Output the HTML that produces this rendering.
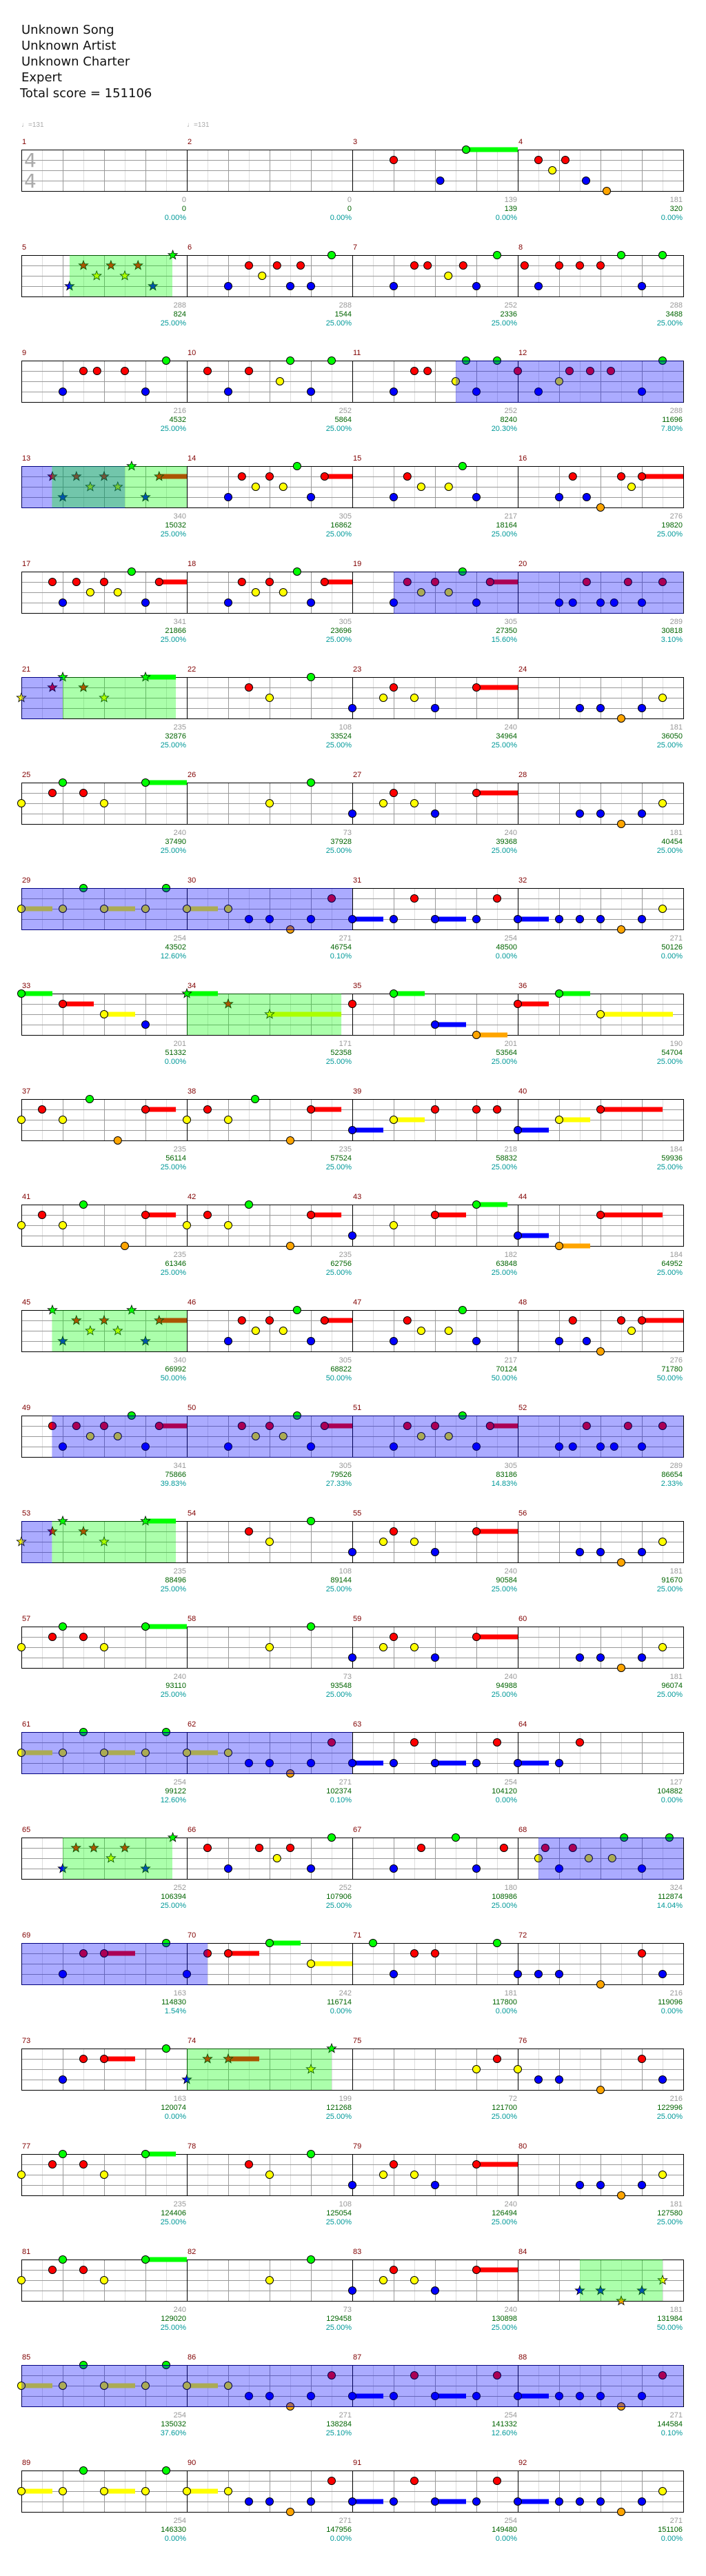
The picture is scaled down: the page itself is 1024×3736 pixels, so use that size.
<!DOCTYPE html>
<html><head><meta charset="utf-8">
<style>
html,body{margin:0;padding:0;background:#fff;}
svg{display:block;}
.h{font-family:"DejaVu Sans","Liberation Sans",sans-serif;font-size:18px;fill:#111;}
.t{font-family:"Liberation Sans",sans-serif;font-size:10px;fill:#aaa;}
.n{font-family:"Liberation Sans",sans-serif;font-size:11px;fill:#800000;}
.a,.b,.c{font-family:"Liberation Sans",sans-serif;font-size:11px;text-anchor:end;}
.a{fill:#999;}.b{fill:#006400;}.c{fill:#009999;}
.ts{font-family:"DejaVu Sans","Liberation Sans",sans-serif;font-size:28px;fill:#aaa;}
</style></head><body>
<svg id="s" xmlns="http://www.w3.org/2000/svg" width="1024" height="3736" viewBox="0 0 1024 3736">
<rect width="1024" height="3736" fill="#fff"/>
<g id="grid"></g><g id="notes"></g><g id="ov"></g>
<text class="h" x="31" y="49">Unknown Song</text>
<text class="h" x="31" y="72">Unknown Artist</text>
<text class="h" x="31" y="95">Unknown Charter</text>
<text class="h" x="31" y="118">Expert</text>
<text class="h" x="29" y="141">Total score = 151106</text>
<text class="t" x="31" y="184">♩=131</text>
<text class="t" x="271" y="184">♩=131</text>
<text class="ts" x="35" y="242">4</text>
<text class="ts" x="35" y="272">4</text>
<g id="labels">
<g transform="translate(31,217)"><text class="n" x="1" y="-8">1</text><text class="a" x="239" y="76">0</text><text class="b" x="239" y="89">0</text><text class="c" x="239" y="102">0.00%</text></g>
<g transform="translate(271,217)"><text class="n" x="1" y="-8">2</text><text class="a" x="239" y="76">0</text><text class="b" x="239" y="89">0</text><text class="c" x="239" y="102">0.00%</text></g>
<g transform="translate(511,217)"><text class="n" x="1" y="-8">3</text><text class="a" x="239" y="76">139</text><text class="b" x="239" y="89">139</text><text class="c" x="239" y="102">0.00%</text></g>
<g transform="translate(751,217)"><text class="n" x="1" y="-8">4</text><text class="a" x="239" y="76">181</text><text class="b" x="239" y="89">320</text><text class="c" x="239" y="102">0.00%</text></g>
<g transform="translate(31,370)"><text class="n" x="1" y="-8">5</text><text class="a" x="239" y="76">288</text><text class="b" x="239" y="89">824</text><text class="c" x="239" y="102">25.00%</text></g>
<g transform="translate(271,370)"><text class="n" x="1" y="-8">6</text><text class="a" x="239" y="76">288</text><text class="b" x="239" y="89">1544</text><text class="c" x="239" y="102">25.00%</text></g>
<g transform="translate(511,370)"><text class="n" x="1" y="-8">7</text><text class="a" x="239" y="76">252</text><text class="b" x="239" y="89">2336</text><text class="c" x="239" y="102">25.00%</text></g>
<g transform="translate(751,370)"><text class="n" x="1" y="-8">8</text><text class="a" x="239" y="76">288</text><text class="b" x="239" y="89">3488</text><text class="c" x="239" y="102">25.00%</text></g>
<g transform="translate(31,523)"><text class="n" x="1" y="-8">9</text><text class="a" x="239" y="76">216</text><text class="b" x="239" y="89">4532</text><text class="c" x="239" y="102">25.00%</text></g>
<g transform="translate(271,523)"><text class="n" x="1" y="-8">10</text><text class="a" x="239" y="76">252</text><text class="b" x="239" y="89">5864</text><text class="c" x="239" y="102">25.00%</text></g>
<g transform="translate(511,523)"><text class="n" x="1" y="-8">11</text><text class="a" x="239" y="76">252</text><text class="b" x="239" y="89">8240</text><text class="c" x="239" y="102">20.30%</text></g>
<g transform="translate(751,523)"><text class="n" x="1" y="-8">12</text><text class="a" x="239" y="76">288</text><text class="b" x="239" y="89">11696</text><text class="c" x="239" y="102">7.80%</text></g>
<g transform="translate(31,676)"><text class="n" x="1" y="-8">13</text><text class="a" x="239" y="76">340</text><text class="b" x="239" y="89">15032</text><text class="c" x="239" y="102">25.00%</text></g>
<g transform="translate(271,676)"><text class="n" x="1" y="-8">14</text><text class="a" x="239" y="76">305</text><text class="b" x="239" y="89">16862</text><text class="c" x="239" y="102">25.00%</text></g>
<g transform="translate(511,676)"><text class="n" x="1" y="-8">15</text><text class="a" x="239" y="76">217</text><text class="b" x="239" y="89">18164</text><text class="c" x="239" y="102">25.00%</text></g>
<g transform="translate(751,676)"><text class="n" x="1" y="-8">16</text><text class="a" x="239" y="76">276</text><text class="b" x="239" y="89">19820</text><text class="c" x="239" y="102">25.00%</text></g>
<g transform="translate(31,829)"><text class="n" x="1" y="-8">17</text><text class="a" x="239" y="76">341</text><text class="b" x="239" y="89">21866</text><text class="c" x="239" y="102">25.00%</text></g>
<g transform="translate(271,829)"><text class="n" x="1" y="-8">18</text><text class="a" x="239" y="76">305</text><text class="b" x="239" y="89">23696</text><text class="c" x="239" y="102">25.00%</text></g>
<g transform="translate(511,829)"><text class="n" x="1" y="-8">19</text><text class="a" x="239" y="76">305</text><text class="b" x="239" y="89">27350</text><text class="c" x="239" y="102">15.60%</text></g>
<g transform="translate(751,829)"><text class="n" x="1" y="-8">20</text><text class="a" x="239" y="76">289</text><text class="b" x="239" y="89">30818</text><text class="c" x="239" y="102">3.10%</text></g>
<g transform="translate(31,982)"><text class="n" x="1" y="-8">21</text><text class="a" x="239" y="76">235</text><text class="b" x="239" y="89">32876</text><text class="c" x="239" y="102">25.00%</text></g>
<g transform="translate(271,982)"><text class="n" x="1" y="-8">22</text><text class="a" x="239" y="76">108</text><text class="b" x="239" y="89">33524</text><text class="c" x="239" y="102">25.00%</text></g>
<g transform="translate(511,982)"><text class="n" x="1" y="-8">23</text><text class="a" x="239" y="76">240</text><text class="b" x="239" y="89">34964</text><text class="c" x="239" y="102">25.00%</text></g>
<g transform="translate(751,982)"><text class="n" x="1" y="-8">24</text><text class="a" x="239" y="76">181</text><text class="b" x="239" y="89">36050</text><text class="c" x="239" y="102">25.00%</text></g>
<g transform="translate(31,1135)"><text class="n" x="1" y="-8">25</text><text class="a" x="239" y="76">240</text><text class="b" x="239" y="89">37490</text><text class="c" x="239" y="102">25.00%</text></g>
<g transform="translate(271,1135)"><text class="n" x="1" y="-8">26</text><text class="a" x="239" y="76">73</text><text class="b" x="239" y="89">37928</text><text class="c" x="239" y="102">25.00%</text></g>
<g transform="translate(511,1135)"><text class="n" x="1" y="-8">27</text><text class="a" x="239" y="76">240</text><text class="b" x="239" y="89">39368</text><text class="c" x="239" y="102">25.00%</text></g>
<g transform="translate(751,1135)"><text class="n" x="1" y="-8">28</text><text class="a" x="239" y="76">181</text><text class="b" x="239" y="89">40454</text><text class="c" x="239" y="102">25.00%</text></g>
<g transform="translate(31,1288)"><text class="n" x="1" y="-8">29</text><text class="a" x="239" y="76">254</text><text class="b" x="239" y="89">43502</text><text class="c" x="239" y="102">12.60%</text></g>
<g transform="translate(271,1288)"><text class="n" x="1" y="-8">30</text><text class="a" x="239" y="76">271</text><text class="b" x="239" y="89">46754</text><text class="c" x="239" y="102">0.10%</text></g>
<g transform="translate(511,1288)"><text class="n" x="1" y="-8">31</text><text class="a" x="239" y="76">254</text><text class="b" x="239" y="89">48500</text><text class="c" x="239" y="102">0.00%</text></g>
<g transform="translate(751,1288)"><text class="n" x="1" y="-8">32</text><text class="a" x="239" y="76">271</text><text class="b" x="239" y="89">50126</text><text class="c" x="239" y="102">0.00%</text></g>
<g transform="translate(31,1441)"><text class="n" x="1" y="-8">33</text><text class="a" x="239" y="76">201</text><text class="b" x="239" y="89">51332</text><text class="c" x="239" y="102">0.00%</text></g>
<g transform="translate(271,1441)"><text class="n" x="1" y="-8">34</text><text class="a" x="239" y="76">171</text><text class="b" x="239" y="89">52358</text><text class="c" x="239" y="102">25.00%</text></g>
<g transform="translate(511,1441)"><text class="n" x="1" y="-8">35</text><text class="a" x="239" y="76">201</text><text class="b" x="239" y="89">53564</text><text class="c" x="239" y="102">25.00%</text></g>
<g transform="translate(751,1441)"><text class="n" x="1" y="-8">36</text><text class="a" x="239" y="76">190</text><text class="b" x="239" y="89">54704</text><text class="c" x="239" y="102">25.00%</text></g>
<g transform="translate(31,1594)"><text class="n" x="1" y="-8">37</text><text class="a" x="239" y="76">235</text><text class="b" x="239" y="89">56114</text><text class="c" x="239" y="102">25.00%</text></g>
<g transform="translate(271,1594)"><text class="n" x="1" y="-8">38</text><text class="a" x="239" y="76">235</text><text class="b" x="239" y="89">57524</text><text class="c" x="239" y="102">25.00%</text></g>
<g transform="translate(511,1594)"><text class="n" x="1" y="-8">39</text><text class="a" x="239" y="76">218</text><text class="b" x="239" y="89">58832</text><text class="c" x="239" y="102">25.00%</text></g>
<g transform="translate(751,1594)"><text class="n" x="1" y="-8">40</text><text class="a" x="239" y="76">184</text><text class="b" x="239" y="89">59936</text><text class="c" x="239" y="102">25.00%</text></g>
<g transform="translate(31,1747)"><text class="n" x="1" y="-8">41</text><text class="a" x="239" y="76">235</text><text class="b" x="239" y="89">61346</text><text class="c" x="239" y="102">25.00%</text></g>
<g transform="translate(271,1747)"><text class="n" x="1" y="-8">42</text><text class="a" x="239" y="76">235</text><text class="b" x="239" y="89">62756</text><text class="c" x="239" y="102">25.00%</text></g>
<g transform="translate(511,1747)"><text class="n" x="1" y="-8">43</text><text class="a" x="239" y="76">182</text><text class="b" x="239" y="89">63848</text><text class="c" x="239" y="102">25.00%</text></g>
<g transform="translate(751,1747)"><text class="n" x="1" y="-8">44</text><text class="a" x="239" y="76">184</text><text class="b" x="239" y="89">64952</text><text class="c" x="239" y="102">25.00%</text></g>
<g transform="translate(31,1900)"><text class="n" x="1" y="-8">45</text><text class="a" x="239" y="76">340</text><text class="b" x="239" y="89">66992</text><text class="c" x="239" y="102">50.00%</text></g>
<g transform="translate(271,1900)"><text class="n" x="1" y="-8">46</text><text class="a" x="239" y="76">305</text><text class="b" x="239" y="89">68822</text><text class="c" x="239" y="102">50.00%</text></g>
<g transform="translate(511,1900)"><text class="n" x="1" y="-8">47</text><text class="a" x="239" y="76">217</text><text class="b" x="239" y="89">70124</text><text class="c" x="239" y="102">50.00%</text></g>
<g transform="translate(751,1900)"><text class="n" x="1" y="-8">48</text><text class="a" x="239" y="76">276</text><text class="b" x="239" y="89">71780</text><text class="c" x="239" y="102">50.00%</text></g>
<g transform="translate(31,2053)"><text class="n" x="1" y="-8">49</text><text class="a" x="239" y="76">341</text><text class="b" x="239" y="89">75866</text><text class="c" x="239" y="102">39.83%</text></g>
<g transform="translate(271,2053)"><text class="n" x="1" y="-8">50</text><text class="a" x="239" y="76">305</text><text class="b" x="239" y="89">79526</text><text class="c" x="239" y="102">27.33%</text></g>
<g transform="translate(511,2053)"><text class="n" x="1" y="-8">51</text><text class="a" x="239" y="76">305</text><text class="b" x="239" y="89">83186</text><text class="c" x="239" y="102">14.83%</text></g>
<g transform="translate(751,2053)"><text class="n" x="1" y="-8">52</text><text class="a" x="239" y="76">289</text><text class="b" x="239" y="89">86654</text><text class="c" x="239" y="102">2.33%</text></g>
<g transform="translate(31,2206)"><text class="n" x="1" y="-8">53</text><text class="a" x="239" y="76">235</text><text class="b" x="239" y="89">88496</text><text class="c" x="239" y="102">25.00%</text></g>
<g transform="translate(271,2206)"><text class="n" x="1" y="-8">54</text><text class="a" x="239" y="76">108</text><text class="b" x="239" y="89">89144</text><text class="c" x="239" y="102">25.00%</text></g>
<g transform="translate(511,2206)"><text class="n" x="1" y="-8">55</text><text class="a" x="239" y="76">240</text><text class="b" x="239" y="89">90584</text><text class="c" x="239" y="102">25.00%</text></g>
<g transform="translate(751,2206)"><text class="n" x="1" y="-8">56</text><text class="a" x="239" y="76">181</text><text class="b" x="239" y="89">91670</text><text class="c" x="239" y="102">25.00%</text></g>
<g transform="translate(31,2359)"><text class="n" x="1" y="-8">57</text><text class="a" x="239" y="76">240</text><text class="b" x="239" y="89">93110</text><text class="c" x="239" y="102">25.00%</text></g>
<g transform="translate(271,2359)"><text class="n" x="1" y="-8">58</text><text class="a" x="239" y="76">73</text><text class="b" x="239" y="89">93548</text><text class="c" x="239" y="102">25.00%</text></g>
<g transform="translate(511,2359)"><text class="n" x="1" y="-8">59</text><text class="a" x="239" y="76">240</text><text class="b" x="239" y="89">94988</text><text class="c" x="239" y="102">25.00%</text></g>
<g transform="translate(751,2359)"><text class="n" x="1" y="-8">60</text><text class="a" x="239" y="76">181</text><text class="b" x="239" y="89">96074</text><text class="c" x="239" y="102">25.00%</text></g>
<g transform="translate(31,2512)"><text class="n" x="1" y="-8">61</text><text class="a" x="239" y="76">254</text><text class="b" x="239" y="89">99122</text><text class="c" x="239" y="102">12.60%</text></g>
<g transform="translate(271,2512)"><text class="n" x="1" y="-8">62</text><text class="a" x="239" y="76">271</text><text class="b" x="239" y="89">102374</text><text class="c" x="239" y="102">0.10%</text></g>
<g transform="translate(511,2512)"><text class="n" x="1" y="-8">63</text><text class="a" x="239" y="76">254</text><text class="b" x="239" y="89">104120</text><text class="c" x="239" y="102">0.00%</text></g>
<g transform="translate(751,2512)"><text class="n" x="1" y="-8">64</text><text class="a" x="239" y="76">127</text><text class="b" x="239" y="89">104882</text><text class="c" x="239" y="102">0.00%</text></g>
<g transform="translate(31,2665)"><text class="n" x="1" y="-8">65</text><text class="a" x="239" y="76">252</text><text class="b" x="239" y="89">106394</text><text class="c" x="239" y="102">25.00%</text></g>
<g transform="translate(271,2665)"><text class="n" x="1" y="-8">66</text><text class="a" x="239" y="76">252</text><text class="b" x="239" y="89">107906</text><text class="c" x="239" y="102">25.00%</text></g>
<g transform="translate(511,2665)"><text class="n" x="1" y="-8">67</text><text class="a" x="239" y="76">180</text><text class="b" x="239" y="89">108986</text><text class="c" x="239" y="102">25.00%</text></g>
<g transform="translate(751,2665)"><text class="n" x="1" y="-8">68</text><text class="a" x="239" y="76">324</text><text class="b" x="239" y="89">112874</text><text class="c" x="239" y="102">14.04%</text></g>
<g transform="translate(31,2818)"><text class="n" x="1" y="-8">69</text><text class="a" x="239" y="76">163</text><text class="b" x="239" y="89">114830</text><text class="c" x="239" y="102">1.54%</text></g>
<g transform="translate(271,2818)"><text class="n" x="1" y="-8">70</text><text class="a" x="239" y="76">242</text><text class="b" x="239" y="89">116714</text><text class="c" x="239" y="102">0.00%</text></g>
<g transform="translate(511,2818)"><text class="n" x="1" y="-8">71</text><text class="a" x="239" y="76">181</text><text class="b" x="239" y="89">117800</text><text class="c" x="239" y="102">0.00%</text></g>
<g transform="translate(751,2818)"><text class="n" x="1" y="-8">72</text><text class="a" x="239" y="76">216</text><text class="b" x="239" y="89">119096</text><text class="c" x="239" y="102">0.00%</text></g>
<g transform="translate(31,2971)"><text class="n" x="1" y="-8">73</text><text class="a" x="239" y="76">163</text><text class="b" x="239" y="89">120074</text><text class="c" x="239" y="102">0.00%</text></g>
<g transform="translate(271,2971)"><text class="n" x="1" y="-8">74</text><text class="a" x="239" y="76">199</text><text class="b" x="239" y="89">121268</text><text class="c" x="239" y="102">25.00%</text></g>
<g transform="translate(511,2971)"><text class="n" x="1" y="-8">75</text><text class="a" x="239" y="76">72</text><text class="b" x="239" y="89">121700</text><text class="c" x="239" y="102">25.00%</text></g>
<g transform="translate(751,2971)"><text class="n" x="1" y="-8">76</text><text class="a" x="239" y="76">216</text><text class="b" x="239" y="89">122996</text><text class="c" x="239" y="102">25.00%</text></g>
<g transform="translate(31,3124)"><text class="n" x="1" y="-8">77</text><text class="a" x="239" y="76">235</text><text class="b" x="239" y="89">124406</text><text class="c" x="239" y="102">25.00%</text></g>
<g transform="translate(271,3124)"><text class="n" x="1" y="-8">78</text><text class="a" x="239" y="76">108</text><text class="b" x="239" y="89">125054</text><text class="c" x="239" y="102">25.00%</text></g>
<g transform="translate(511,3124)"><text class="n" x="1" y="-8">79</text><text class="a" x="239" y="76">240</text><text class="b" x="239" y="89">126494</text><text class="c" x="239" y="102">25.00%</text></g>
<g transform="translate(751,3124)"><text class="n" x="1" y="-8">80</text><text class="a" x="239" y="76">181</text><text class="b" x="239" y="89">127580</text><text class="c" x="239" y="102">25.00%</text></g>
<g transform="translate(31,3277)"><text class="n" x="1" y="-8">81</text><text class="a" x="239" y="76">240</text><text class="b" x="239" y="89">129020</text><text class="c" x="239" y="102">25.00%</text></g>
<g transform="translate(271,3277)"><text class="n" x="1" y="-8">82</text><text class="a" x="239" y="76">73</text><text class="b" x="239" y="89">129458</text><text class="c" x="239" y="102">25.00%</text></g>
<g transform="translate(511,3277)"><text class="n" x="1" y="-8">83</text><text class="a" x="239" y="76">240</text><text class="b" x="239" y="89">130898</text><text class="c" x="239" y="102">25.00%</text></g>
<g transform="translate(751,3277)"><text class="n" x="1" y="-8">84</text><text class="a" x="239" y="76">181</text><text class="b" x="239" y="89">131984</text><text class="c" x="239" y="102">50.00%</text></g>
<g transform="translate(31,3430)"><text class="n" x="1" y="-8">85</text><text class="a" x="239" y="76">254</text><text class="b" x="239" y="89">135032</text><text class="c" x="239" y="102">37.60%</text></g>
<g transform="translate(271,3430)"><text class="n" x="1" y="-8">86</text><text class="a" x="239" y="76">271</text><text class="b" x="239" y="89">138284</text><text class="c" x="239" y="102">25.10%</text></g>
<g transform="translate(511,3430)"><text class="n" x="1" y="-8">87</text><text class="a" x="239" y="76">254</text><text class="b" x="239" y="89">141332</text><text class="c" x="239" y="102">12.60%</text></g>
<g transform="translate(751,3430)"><text class="n" x="1" y="-8">88</text><text class="a" x="239" y="76">271</text><text class="b" x="239" y="89">144584</text><text class="c" x="239" y="102">0.10%</text></g>
<g transform="translate(31,3583)"><text class="n" x="1" y="-8">89</text><text class="a" x="239" y="76">254</text><text class="b" x="239" y="89">146330</text><text class="c" x="239" y="102">0.00%</text></g>
<g transform="translate(271,3583)"><text class="n" x="1" y="-8">90</text><text class="a" x="239" y="76">271</text><text class="b" x="239" y="89">147956</text><text class="c" x="239" y="102">0.00%</text></g>
<g transform="translate(511,3583)"><text class="n" x="1" y="-8">91</text><text class="a" x="239" y="76">254</text><text class="b" x="239" y="89">149480</text><text class="c" x="239" y="102">0.00%</text></g>
<g transform="translate(751,3583)"><text class="n" x="1" y="-8">92</text><text class="a" x="239" y="76">271</text><text class="b" x="239" y="89">151106</text><text class="c" x="239" y="102">0.00%</text></g>
</g>
</svg>
<script>
(function(){
var NS="http://www.w3.org/2000/svg";
function el(p,t,a){var e=document.createElementNS(NS,t);for(var k in a)e.setAttribute(k,a[k]);p.appendChild(e);return e;}
var G=document.getElementById("grid"),N=document.getElementById("notes"),O=document.getElementById("ov");
function mx(m){return 31+240*((m-1)%4);}
function my(m){return 217+153*Math.floor((m-1)/4);}
for(var r=0;r<23;r++){
  var y=217+153*r;
  for(var i=1;i<32;i++){ if(i%8==0)continue; var x=31+30*i; el(G,"line",{x1:x+.5,y1:y,x2:x+.5,y2:y+60,stroke:(i%2==0)?"#999":"#ddd","stroke-width":1});}
  for(var j=1;j<4;j++){el(G,"line",{x1:31,y1:y+15*j+.5,x2:991,y2:y+15*j+.5,stroke:"#999","stroke-width":1});}
  el(G,"rect",{x:31.5,y:y+.5,width:960,height:60,fill:"none",stroke:"#000","stroke-width":1});
  for(var k=1;k<4;k++){var x2=31+240*k;el(G,"line",{x1:x2+.5,y1:y,x2:x2+.5,y2:y+60,stroke:"#000","stroke-width":1});}
}
var COL=["#00ff00","#ff0000","#ffff00","#0000ff","#ffa500"];
var P={
A:"2,3;2.66,1;3.33,2;4,1;4.66,2;5.33,0;6,3;6.66,1,8",
R:"1.5,1;2,3;2.66,1;3.33,2;4,1;4.66,2;5.33,0;6,3;6.66,1,8",
F:"2,3;2.66,1;3.33,2;4.66,2;5.33,0;6,3",
X:"2,3;2.66,1;3.33,3;4,4;5,1;5.5,2;6,1,8",
T:"2,3;2.66,3;3.33,1;4,3;4.66,3;5.33,1;6,3;7,1",
K:"3,1;4,2;6,0",
C:"0,3;1.5,2;2,1;3,2;4,3;6,1,8",
D:"3,3;4,3;5,4;6,3;7,2",
E:"0,2;1.5,1;2,0;3,1;4,2;6,0,8",
E2:"0,2;1.5,1;2,0;3,1;4,2;6,0,7.47",
H:"4,2;6,0",
Y1:"0,2,1.5;2,2;3,0;4,2,5.5;6,2;7,0",
Y2:"0,2,1.5;2,2;3,3;4,3;5,4;6,3;7,1",
B1:"0,3,1.5;2,3;3,1;4,3,5.5;6,3;7,1",
B2:"0,3,1.5;2,3;3,3;4,3;5,4;6,3;7,2"
};
var M={
3:"2,1;4.25,3;5.5,0,8",4:"1,1;1.67,2;2.3,1;3.3,3;4.3,4",
5:"*2.33,3;*3,1;*3.64,2;*4.33,1;*5,2;*5.64,1;*6.36,3;*7.32,0",
6:"2,3;3,1;3.64,2;4.36,1;5,3;5.5,1;6,3;7,0",
7:"2,3;3,1;3.64,1;4.64,2;5.36,1;6,3;7,0",
8:"0.33,1;1,3;2,1;3,1;4,1;5,0;6,3;7,0",
9:"2,3;3,1;3.66,1;5,1;6,3;7,0",
10:"1,1;2,3;3,1;4.5,2;5,0;6,3;7,0",
11:"2,3;3,1;3.64,1;5,2;5.5,0;6,3;7,0",
12:"0,1;1,3;2,2;2.5,1;3.5,1;4.5,1;6,3;7,0",
13:"*1.5,1;*2,3;*2.66,1;*3.33,2;*4,1;*4.66,2;*5.33,0;*6,3;*6.66,1,8",
14:"A",15:"F",16:"X",17:"R",18:"A",19:"A",20:"T",
21:"*0,2;*1.5,1;*2,0;*3,1;*4,2;*6,0,7.47",
22:"K",23:"C",24:"D",25:"E",26:"H",27:"C",28:"D",29:"Y1",30:"Y2",31:"B1",32:"B2",
33:"0,0,1.5;2,1,3.5;4,2,5.5;6,3",
34:"*0,0,1.5;*2,1;*4,2,7.47",
35:"0,1;2,0,3.5;4,3,5.5;6,4,7.5",
36:"0,1,1.5;2,0,3.5;4,2,7.5",
37:"0,2;1,1;2,2;3.3,0;4.66,4;6,1,7.47",
38:"0,2;1,1;2,2;3.3,0;5,4;6,1,7.47",
39:"0,3,1.5;2,2,3.5;4,1;6,1;7,1",
40:"0,3,1.5;2,2,3.5;4,1,7",
41:"0,2;1,1;2,2;3,0;5,4;6,1,7.47",
42:"0,2;1,1;2,2;3,0;5,4;6,1,7.47",
43:"0,3;2,2;4,1,5.5;6,0,7.5",
44:"0,3,1.5;2,4,3.5;4,1,7",
45:"*1.5,0;*2,3;*2.66,1;*3.33,2;*4,1;*4.66,2;*5.33,0;*6,3;*6.66,1,8",
46:"A",47:"F",48:"X",49:"R",50:"A",51:"A",52:"T",
53:"*0,2;*1.5,1;*2,0;*3,1;*4,2;*6,0,7.47",
54:"K",55:"C",56:"D",57:"E",58:"H",59:"C",60:"D",61:"Y1",62:"Y2",63:"B1",
64:"0,3,1.5;2,3;3,1",
65:"*2,3;*2.64,1;*3.5,1;*4.33,2;*5,1;*6,3;*7.32,0",
66:"1,1;2,3;3.5,1;4.36,2;5,1;6,3;7,0",
67:"2,3;3.33,1;5,0;6,3;7.33,1",
68:"1,2;1.33,1;2,3;2.66,1;3.43,2;4.56,2;5.14,0;6,3;7.33,0",
69:"2,3;3,1;4,1,5.5;7,0",
70:"0,3;1,1;2,1,3.5;4,0,5.5;6,2,8",
71:"1,0;2,3;3,1;4,1;7,0",
72:"0,3;1,3;2,3;4,4;6,1;7,3",
73:"2,3;3,1;4,1,5.5;7,0",
74:"*0,3;*1,1;*2,1,3.5;*6,2;*7,0",
75:"6,2;7,1",
76:"0,2;1,3;2,3;4,4;6,1;7,3",
77:"E2",78:"K",79:"C",80:"D",81:"E",82:"H",83:"C",
84:"*3,3;*4,3;*5,4;*6,3;*7,2",
85:"Y1",86:"Y2",87:"B1",88:"0,3,1.5;2,3;3,3;4,3;5,4;6,3;7,1",
89:"Y1",90:"Y2",91:"B1",92:"B2"
};
function star(cx,cy,R,fill){
  var pts=[];for(var i=0;i<10;i++){var a=-Math.PI/2+i*Math.PI/5;var rr=(i%2==0)?R:R*0.42;pts.push((cx+rr*Math.cos(a)).toFixed(1)+","+(cy+rr*Math.sin(a)).toFixed(1));}
  el(N,"polygon",{points:pts.join(" "),fill:fill,stroke:"#000","stroke-width":0.8});
}
var heads=[];
for(var m in M){
  var s=M[m]; if(P[s])s=P[s];
  var x0=mx(+m),y0=my(+m);
  s.split(";").forEach(function(t){
    var st=false; if(t[0]=="*"){st=true;t=t.slice(1);}
    var q=t.split(","); var p=+q[0],l=+q[1]; var cx=x0+p*30, cy=y0+l*15;
    if(q.length>2){var e=x0+(+q[2])*30; el(N,"rect",{x:cx,y:cy-3.5,width:e-cx,height:7,fill:COL[l]});}
    heads.push([cx,cy,l,st]);
  });
}
heads.forEach(function(h){
  if(h[3])star(h[0],h[1],7,COL[h[2]]);
  else el(N,"circle",{cx:h[0],cy:h[1],r:5.5,fill:COL[h[2]],stroke:"#000","stroke-width":1});
});
var R=[
[5,2.33,5,7.3,"S"],[11,5,12,8,"O"],[13,0,13,5,"O"],[13,1.48,13,8,"S"],[19,2,20,8,"O"],
[21,0,21,2,"O"],[21,2,21,7.47,"S"],[29,0,30,8,"O"],[34,0,34,7.47,"S"],[45,1.48,45,8,"S"],
[49,1.48,52,8,"O"],[53,0,53,1.48,"O"],[53,1.48,53,7.47,"S"],[61,0,62,8,"O"],[65,2,65,7.3,"S"],
[68,1,70,1,"O"],[74,0,74,7,"S"],[84,3,84,7,"S"],[85,0,88,8,"O"]
];
R.forEach(function(g){
  for(var m=g[0];m<=g[2];m++){
    var a=(m==g[0])?g[1]:0,b=(m==g[2])?g[3]:8; if(b<=a)continue;
    var x=mx(m)+a*30,w=(b-a)*30,y=my(m);
    if(g[4]=="S")el(O,"rect",{x:x,y:y,width:w,height:60,fill:"#00ff00","fill-opacity":0.33});
    else {
      el(O,"rect",{x:x,y:y,width:w,height:60,fill:"#0000ff","fill-opacity":0.33});
      el(O,"line",{x1:x,y1:y+.5,x2:x+w,y2:y+.5,stroke:"#000080","stroke-width":1});
      el(O,"line",{x1:x,y1:y+60.5,x2:x+w,y2:y+60.5,stroke:"#000080","stroke-width":1});
    }
  }
});
})();
</script>
</body></html>
